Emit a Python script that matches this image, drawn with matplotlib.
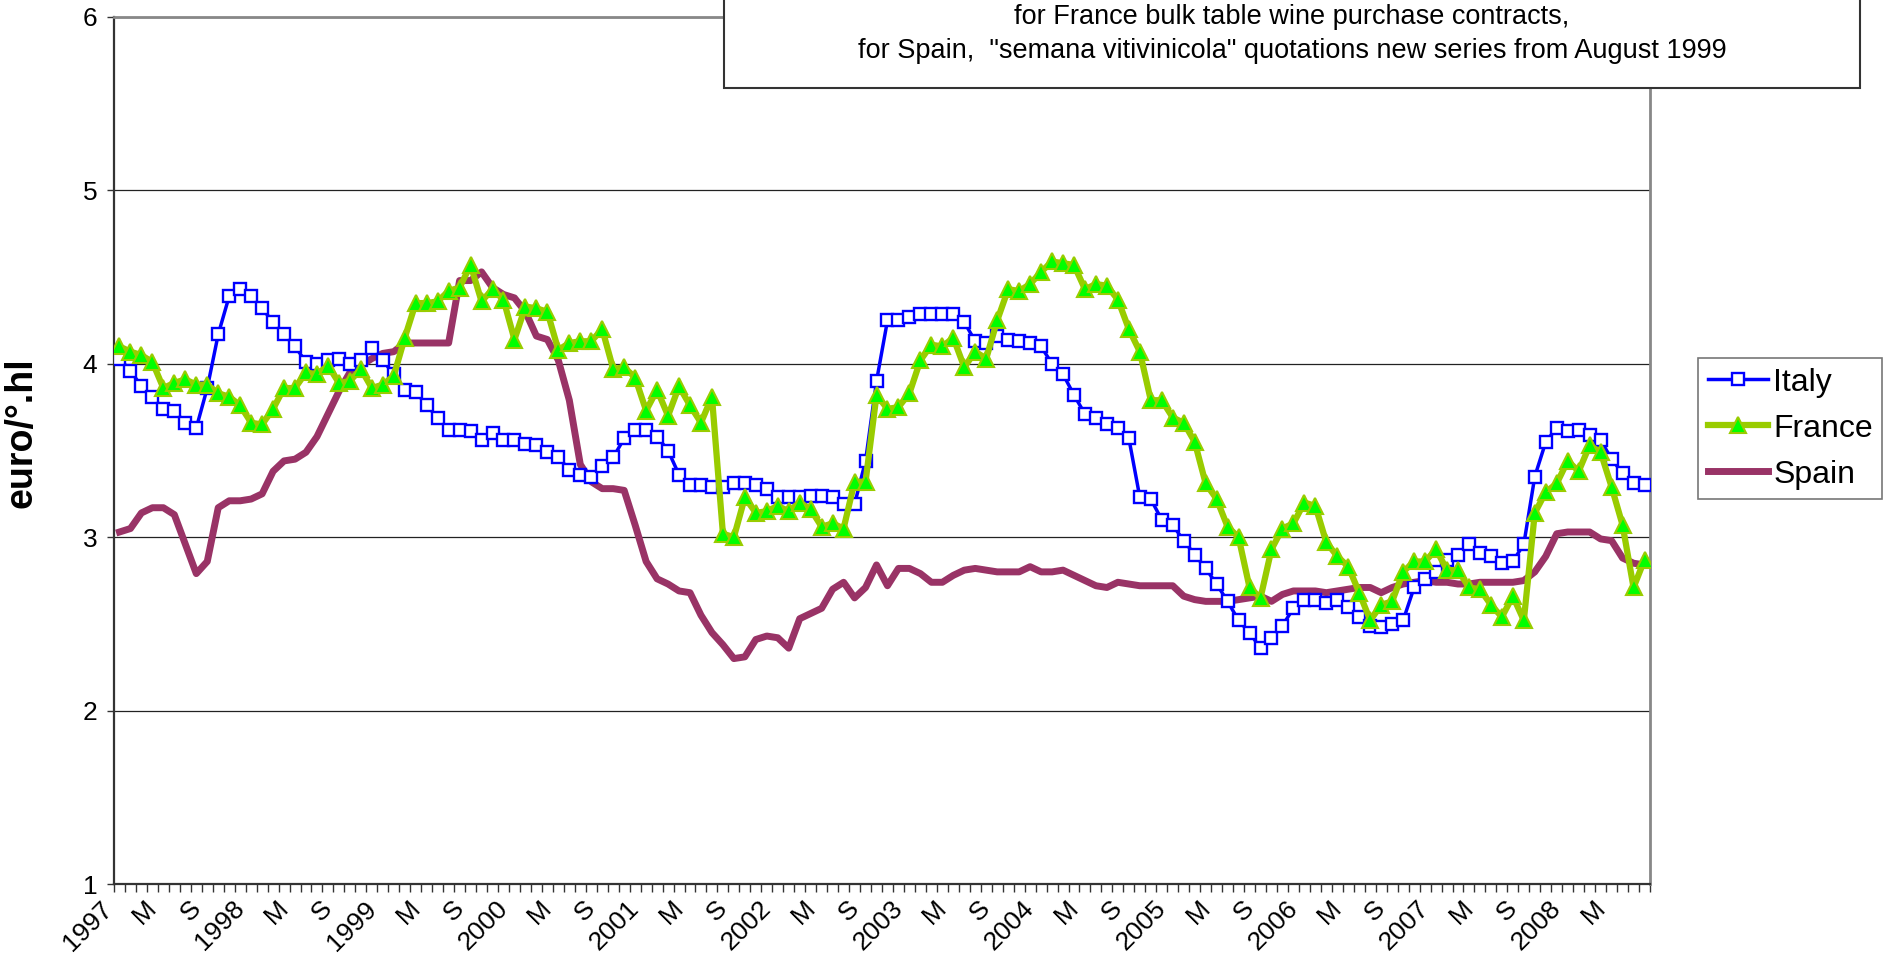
import matplotlib.pyplot as plt
import matplotlib.transforms as mtransforms
from matplotlib.patches import Rectangle
import numpy as np

plt.rcParams['font.family'] = ['Liberation Sans', 'DejaVu Sans']

# monthly prices, Jan 1997 .. Aug 2008 (euro/degree.hl)
italy = [4.03, 3.96, 3.87, 3.81, 3.74, 3.73, 3.66, 3.63, 3.86, 4.17, 4.39, 4.43,
         4.39, 4.32, 4.24, 4.17, 4.10, 4.01, 4.00, 4.02, 4.03, 4.00, 4.02, 4.09,
         4.02, 3.94, 3.85, 3.84, 3.76, 3.69, 3.62, 3.62, 3.61, 3.56, 3.60, 3.56,
         3.56, 3.54, 3.53, 3.49, 3.46, 3.39, 3.36, 3.35, 3.41, 3.46, 3.57, 3.62,
         3.62, 3.58, 3.50, 3.36, 3.30, 3.30, 3.29, 3.29, 3.31, 3.31, 3.30, 3.28,
         3.23, 3.23, 3.23, 3.24, 3.24, 3.23, 3.19, 3.19, 3.44, 3.90, 4.25, 4.25,
         4.27, 4.29, 4.29, 4.29, 4.29, 4.24, 4.13, 4.12, 4.16, 4.14, 4.13, 4.12,
         4.10, 4.00, 3.94, 3.82, 3.71, 3.69, 3.65, 3.63, 3.57, 3.23, 3.22, 3.10,
         3.07, 2.98, 2.90, 2.82, 2.73, 2.63, 2.52, 2.45, 2.36, 2.42, 2.49, 2.59,
         2.64, 2.64, 2.62, 2.64, 2.60, 2.54, 2.49, 2.48, 2.50, 2.52, 2.71, 2.76,
         2.80, 2.87, 2.90, 2.96, 2.91, 2.89, 2.85, 2.86, 2.96, 3.35, 3.55, 3.63,
         3.61, 3.62, 3.59, 3.56, 3.45, 3.37, 3.31, 3.30]

france = [4.10, 4.07, 4.05, 4.01, 3.86, 3.89, 3.91, 3.88, 3.88, 3.83, 3.81, 3.76,
          3.66, 3.65, 3.74, 3.86, 3.86, 3.95, 3.94, 3.99, 3.89, 3.90, 3.97, 3.86,
          3.88, 3.93, 4.15, 4.35, 4.35, 4.36, 4.42, 4.44, 4.57, 4.36, 4.43, 4.37,
          4.14, 4.33, 4.32, 4.30, 4.08, 4.12, 4.13, 4.13, 4.20, 3.97, 3.98, 3.92,
          3.73, 3.85, 3.70, 3.87, 3.76, 3.66, 3.81, 3.02, 3.00, 3.23, 3.14, 3.15,
          3.18, 3.15, 3.20, 3.16, 3.06, 3.08, 3.05, 3.32, 3.32, 3.82, 3.74, 3.75,
          3.83, 4.02, 4.11, 4.10, 4.15, 3.98, 4.07, 4.03, 4.25, 4.43, 4.42, 4.46,
          4.53, 4.59, 4.58, 4.57, 4.43, 4.46, 4.45, 4.37, 4.20, 4.07, 3.79, 3.79,
          3.69, 3.66, 3.55, 3.31, 3.22, 3.06, 3.00, 2.71, 2.65, 2.93, 3.05, 3.08,
          3.20, 3.18, 2.97, 2.89, 2.83, 2.68, 2.52, 2.61, 2.63, 2.80, 2.86, 2.86,
          2.93, 2.81, 2.81, 2.71, 2.70, 2.61, 2.54, 2.66, 2.52, 3.14, 3.26, 3.31,
          3.44, 3.38, 3.53, 3.49, 3.29, 3.07, 2.71, 2.87]

spain = [3.03, 3.05, 3.14, 3.17, 3.17, 3.13, 2.96, 2.79, 2.86, 3.17, 3.21, 3.21,
         3.22, 3.25, 3.38, 3.44, 3.45, 3.49, 3.58, 3.71, 3.84, 3.95, 3.99, 4.03,
         4.06, 4.07, 4.12, 4.12, 4.12, 4.12, 4.12, 4.48, 4.48, 4.53, 4.44, 4.40,
         4.38, 4.30, 4.16, 4.14, 4.02, 3.79, 3.42, 3.32, 3.28, 3.28, 3.27, 3.07,
         2.86, 2.76, 2.73, 2.69, 2.68, 2.55, 2.45, 2.38, 2.30, 2.31, 2.41, 2.43,
         2.42, 2.36, 2.53, 2.56, 2.59, 2.70, 2.74, 2.65, 2.71, 2.84, 2.72, 2.82,
         2.82, 2.79, 2.74, 2.74, 2.78, 2.81, 2.82, 2.81, 2.80, 2.80, 2.80, 2.83,
         2.80, 2.80, 2.81, 2.78, 2.75, 2.72, 2.71, 2.74, 2.73, 2.72, 2.72, 2.72,
         2.72, 2.66, 2.64, 2.63, 2.63, 2.63, 2.64, 2.65, 2.66, 2.63, 2.67, 2.69,
         2.69, 2.69, 2.68, 2.69, 2.70, 2.71, 2.71, 2.68, 2.71, 2.73, 2.74, 2.75,
         2.74, 2.74, 2.73, 2.73, 2.74, 2.74, 2.74, 2.74, 2.75, 2.80, 2.89, 3.02,
         3.03, 3.03, 3.03, 2.99, 2.98, 2.88, 2.85, 2.84]

# one label every 4 months: Jan (year), May, Sep
tick_labels = ['1997', 'M', 'S', '1998', 'M', 'S', '1999', 'M', 'S',
               '2000', 'M', 'S', '2001', 'M', 'S', '2002', 'M', 'S',
               '2003', 'M', 'S', '2004', 'M', 'S', '2005', 'M', 'S',
               '2006', 'M', 'S', '2007', 'M', 'S', '2008', 'M']

note_lines = ['for France bulk table wine purchase contracts,',
              'for Spain,  "semana vitivinicola" quotations new series from August 1999']

months = np.arange(len(italy))

W, H = 1888, 964
fig = plt.figure(figsize=(W / 100, H / 100), dpi=100)
ax = fig.add_axes([114 / W, 80 / H, 1536 / W, 867 / H])

l_spain, = ax.plot(months, spain, color='#993366', lw=5, label='Spain', zorder=2,
                   solid_joinstyle='round')
l_italy, = ax.plot(months, italy, color='#0000ff', lw=2.5, marker='s', ms=9,
                   mfc='white', mec='#0000ff', mew=1.7, label='Italy', zorder=3)
l_france, = ax.plot(months, france, color='#99cc00', lw=4.5, marker='^', ms=11,
                    mfc='#00ff00', mec='#99cc00', mew=1.5, label='France', zorder=4)

ax.set_xlim(-0.5, len(italy) - 0.5)
ax.set_ylim(1, 6)
ax.set_yticks(range(1, 7))
ax.yaxis.grid(True, color='#222222', lw=0.9)
ax.set_axisbelow(True)

# ticks between months, labels every 4 months
ax.set_xticks(np.arange(-0.5, len(italy), 1), minor=True)
ax.set_xticks(np.arange(0, len(italy), 4))
ax.set_xticklabels(tick_labels, rotation=45, ha='right', va='top', fontsize=19)
ax.tick_params(axis='x', which='major', length=0, pad=9)
ax.tick_params(axis='x', which='minor', length=6, width=1, color='#333333', direction='out')
ax.tick_params(axis='y', length=5, width=1, color='#333333', labelsize=19, pad=7)
shift = mtransforms.ScaledTranslation(-2 / 100, 0, fig.dpi_scale_trans)
for lab in ax.get_xticklabels():
    lab.set_transform(lab.get_transform() + shift)

for side in ['left', 'bottom']:
    ax.spines[side].set_color('#333333')
    ax.spines[side].set_linewidth(1.6)
for side in ['right', 'top']:
    ax.spines[side].set_color('#888888')
    ax.spines[side].set_linewidth(2)

fig.text(22 / W, 1 - 433 / H, 'euro/°.hl', rotation=90, ha='center', va='center',
         fontsize=27, fontweight='bold')

leg = fig.legend(handles=[l_italy, l_france, l_spain], loc='upper left',
                 bbox_to_anchor=(1698 / W, 1 - 358 / H), fontsize=23,
                 frameon=True, fancybox=False, edgecolor='#555555',
                 handlelength=1.9, handletextpad=0.15, labelspacing=0.5,
                 borderpad=0.3, borderaxespad=0)
leg.get_frame().set_linewidth(1.2)

# note box at the top, partly cut by the figure edge
box = Rectangle((724 / W, 1 - 88 / H), (1860 - 724) / W, 0.2, transform=fig.transFigure,
                facecolor='white', edgecolor='#333333', lw=1.5, zorder=5)
fig.add_artist(box)
fig.text(1292 / W, 1 - 17 / H, note_lines[0], ha='center', va='center', fontsize=19.5, zorder=6)
fig.text(1292 / W, 1 - 51 / H, note_lines[1], ha='center', va='center', fontsize=19.5, zorder=6)

fig.savefig('out.png', dpi=100)
